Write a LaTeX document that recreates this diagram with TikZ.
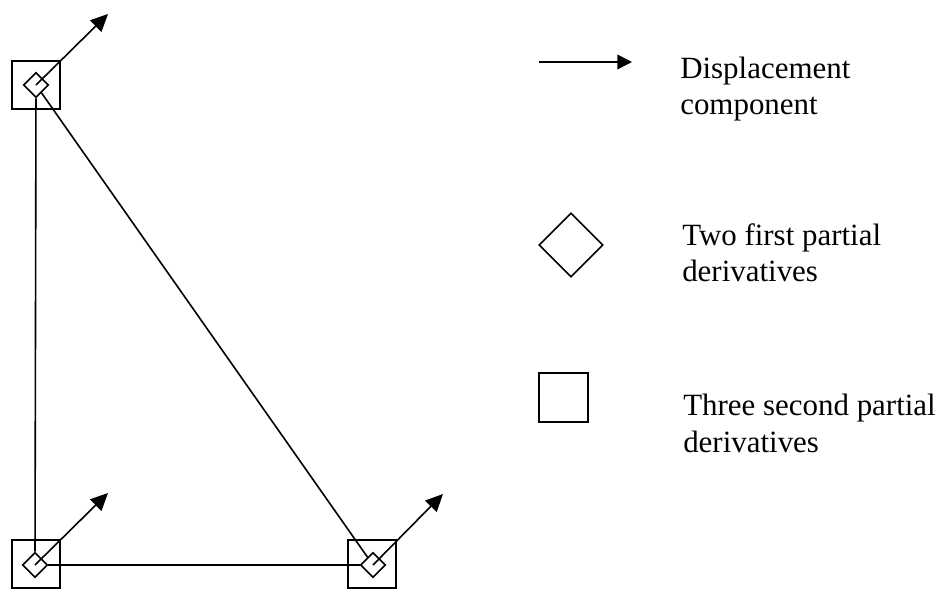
\documentclass[tikz,border=0pt]{standalone}
\usepackage{fontspec}
\setmainfont{Liberation Serif}
\usepackage{tikz}
\usetikzlibrary{positioning,arrows.meta,shapes.geometric}

\begin{document}
\begin{tikzpicture}[x=0.75pt,y=-0.75pt,>={Triangle[length=13pt,width=12pt]},
  font=\fontsize{23.2}{27.7}\selectfont]
  \tikzstyle{dof}=[draw,diamond,line width=1.2pt,minimum width=18.75pt,minimum height=18.75pt,inner sep=0pt]
  \tikzstyle{sec}=[draw,rectangle,line width=1.3pt,minimum size=36pt,inner sep=0pt]
  \tikzstyle{leg}=[anchor=base west,align=left,inner sep=0pt]
  \useasboundingbox (0,0) rectangle (946,591);
  % triangle element, second derivatives at the corners
  \node[sec] (s1) at (36,85) {};
  \node[sec] (s2) at (36,564) {};
  \node[sec] (s3) at (372,564) {};
  \node[dof] (v1) at (36,85) {};
  \node[dof] (v2) at (35,565) {};
  \node[dof] (v3) at (373,565) {};
  \draw[line width=1.2pt] (v1) -- (v2);
  \draw[line width=1.2pt] (v2) -- (v3);
  \draw[line width=1.2pt] (v1) -- (v3);
  % displacement arrows
  \coordinate (a1) at (108,14);
  \coordinate (a2) at (108,493);
  \coordinate (a3) at (443,494);
  \draw[->,line width=1.2pt] (v1.center) -- (a1);
  \draw[->,line width=1.2pt] (v2.center) -- (a2);
  \draw[->,line width=1.2pt] (v3.center) -- (a3);
  % legend
  \coordinate (l0) at (539,62);
  \coordinate (l1) at (632,62);
  \draw[-{Triangle[length=11pt,width=11pt]},line width=1.2pt] (l0) -- (l1);
  \node[leg] (t1) at (680,115) {Displacement\\component};
  \node[draw,diamond,line width=1.2pt,minimum width=48pt,minimum height=48pt,inner sep=0pt] (ld) at (571,245) {};
  \node[leg] (t2) at (682,282) {Two first partial\\derivatives};
  \node[sec,minimum size=36.75pt] (ls) at (563.5,397.5) {};
  \node[leg] (t3) at (683,452) {Three second partial\\derivatives};
\end{tikzpicture}
\end{document}
